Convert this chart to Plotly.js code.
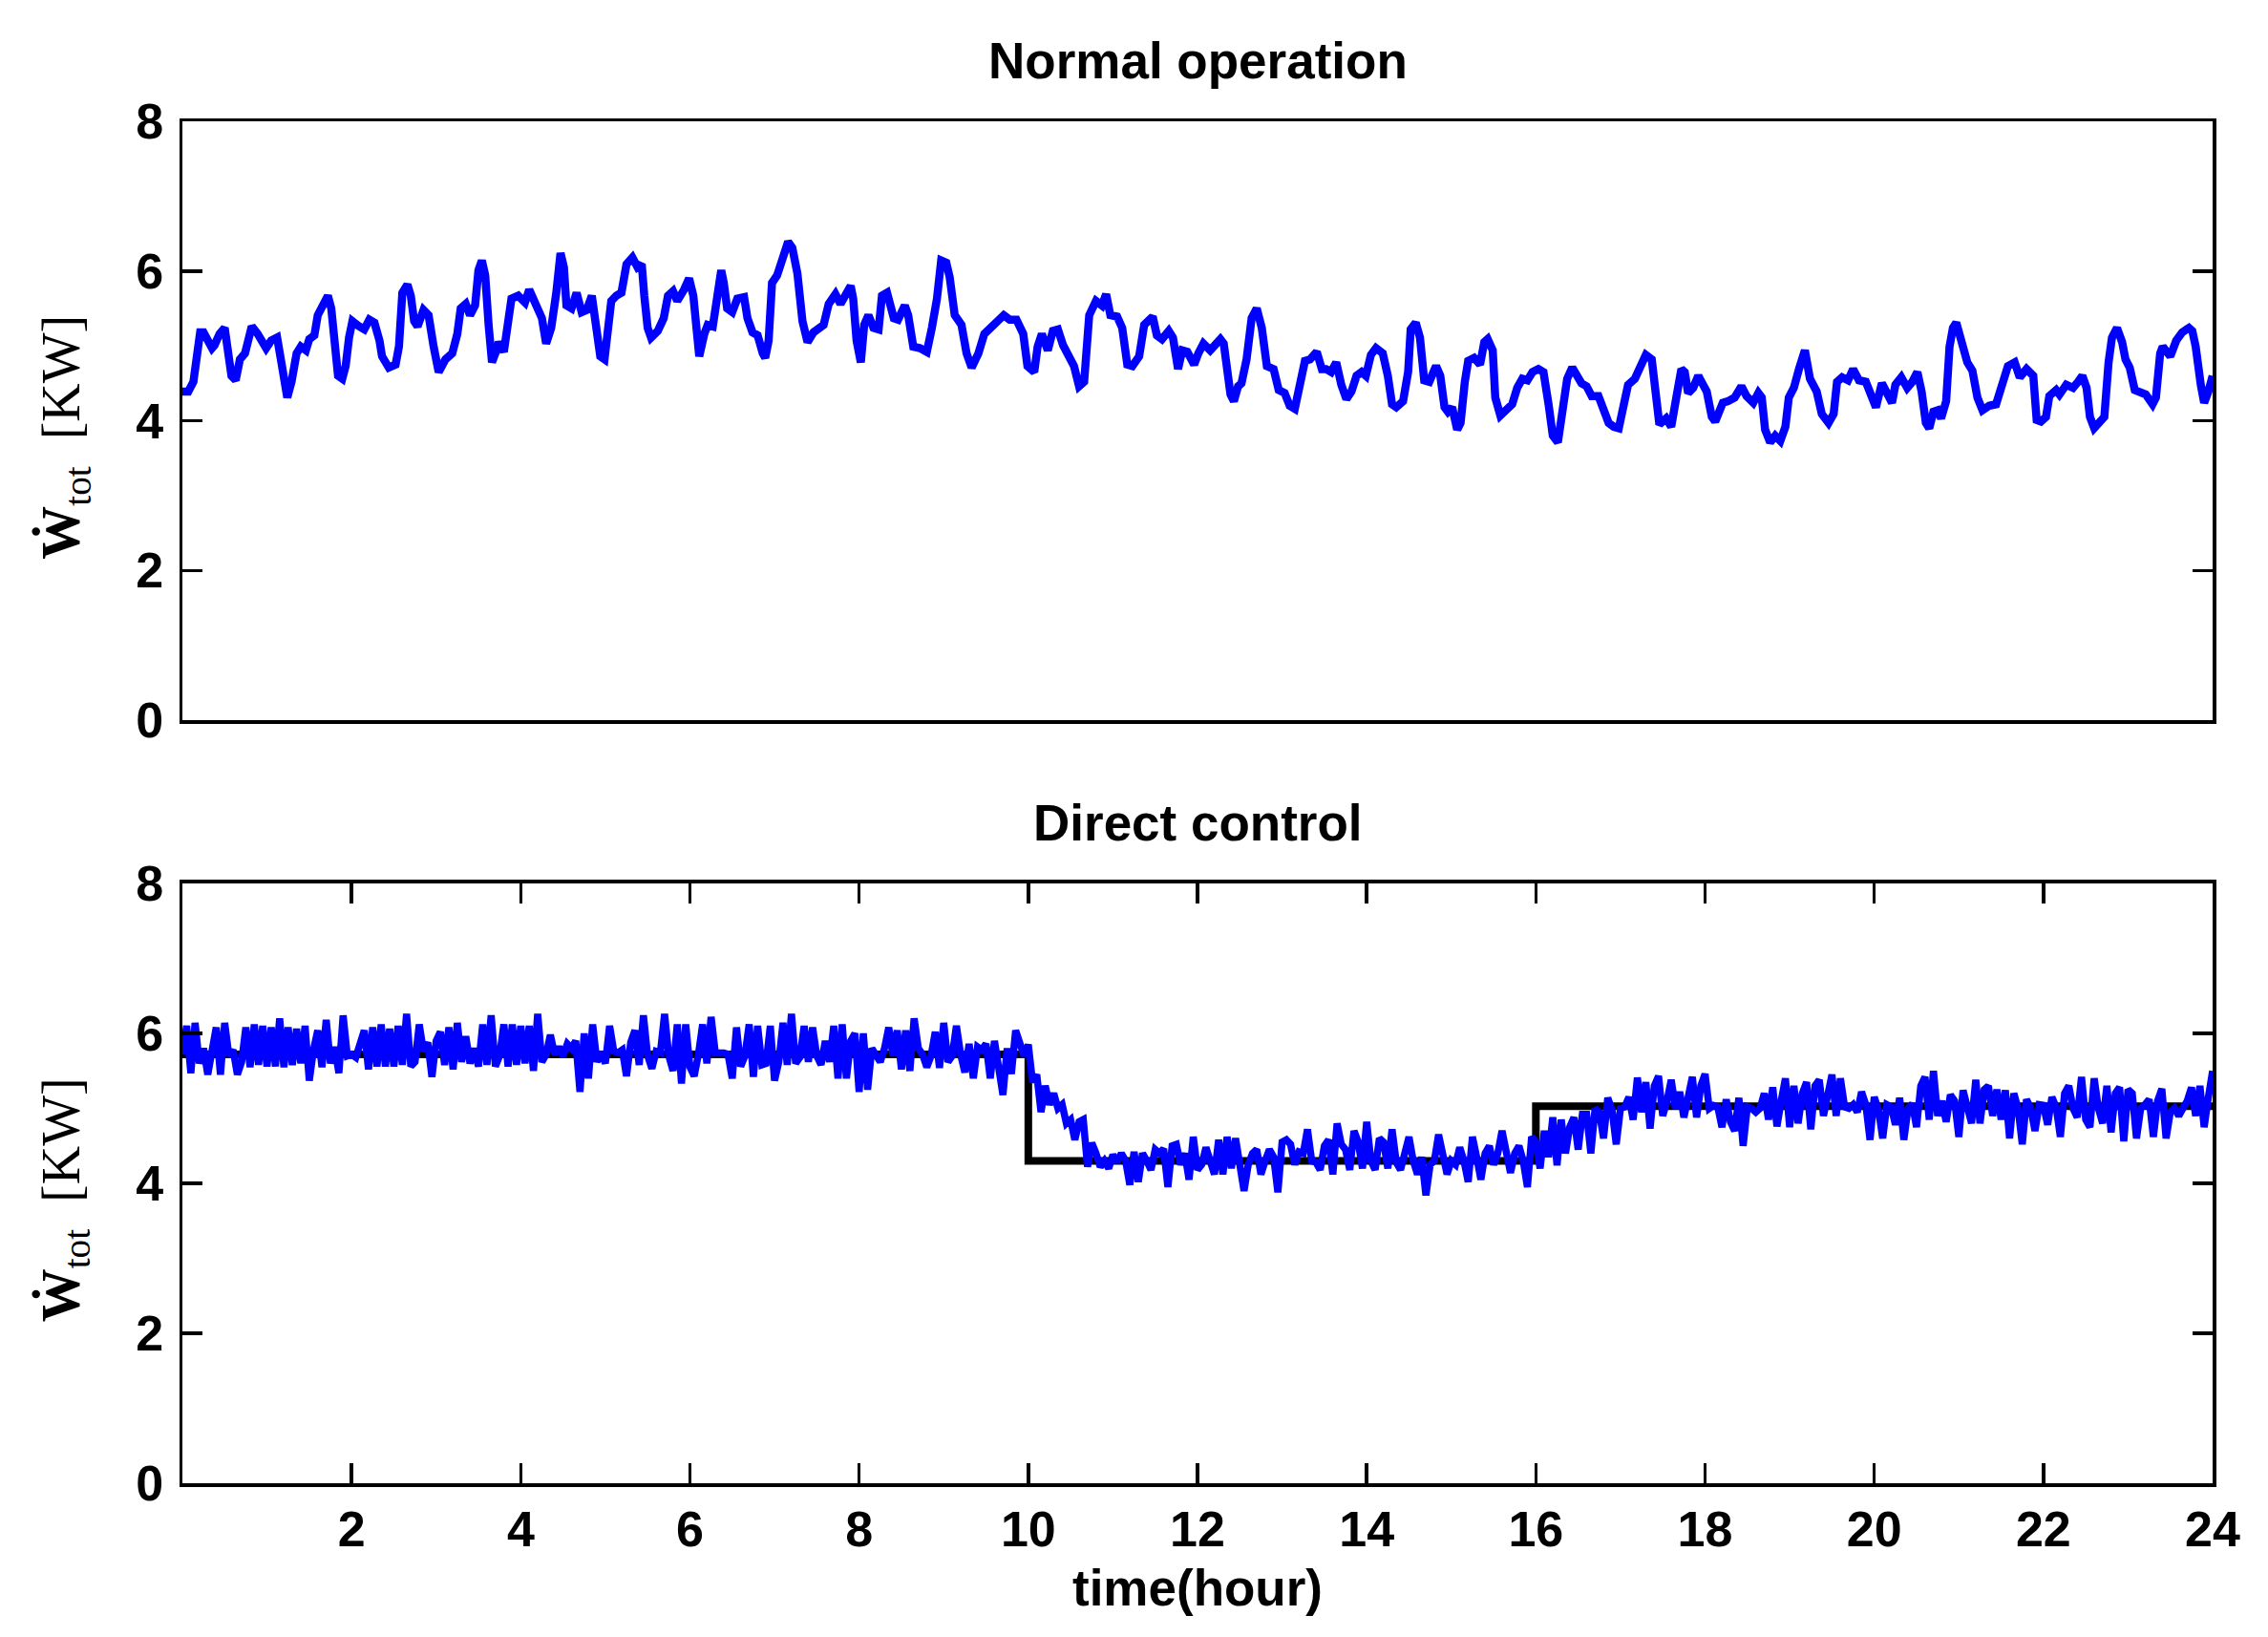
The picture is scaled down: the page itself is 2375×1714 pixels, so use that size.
<!DOCTYPE html>
<html>
<head>
<meta charset="utf-8">
<script src="https://cdn.plot.ly/plotly-3.0.1.min.js"></script>
<style>html,body{margin:0;padding:0;background:#fff;}</style>
</head>
<body>
<div id="chart" style="width:2375px;height:1714px;"></div>
<script>
// ---------- Top panel: Normal operation (time in hours, power in kW) ----------
const normalTime = [
0.00,0.07,0.13,0.17,0.21,0.25,0.29,0.35,0.38,0.44,0.50,0.54,0.58,0.63,0.68,0.74,0.78,0.82,0.89,0.99,
1.05,1.12,1.17,1.21,1.24,1.29,1.35,1.40,1.46,1.50,1.56,1.60,1.66,1.72,1.76,1.80,1.84,1.89,1.93,1.97,
2.01,2.09,2.15,2.21,2.27,2.33,2.36,2.44,2.52,2.56,2.60,2.66,2.70,2.74,2.78,2.85,2.91,2.97,3.03,3.11,
3.19,3.25,3.29,3.35,3.40,3.46,3.50,3.54,3.58,3.62,3.66,3.70,3.74,3.80,3.85,3.89,3.97,4.05,4.10,4.17,
4.25,4.30,4.36,4.42,4.47,4.51,4.54,4.60,4.66,4.72,4.78,4.84,4.89,4.94,4.99,5.03,5.07,5.13,5.19,5.25,
5.32,5.38,5.43,5.46,5.50,5.54,5.62,5.69,5.74,5.80,5.85,5.93,5.99,6.04,
6.11,6.17,6.21,6.27,6.31,6.37,6.40,6.44,6.50,6.56,6.64,6.68,6.74,6.80,6.86,6.89,6.93,6.97,7.03,7.09,
7.16,7.21,7.27,7.33,7.39,7.46,7.52,7.58,7.64,7.72,7.78,7.84,7.90,7.93,7.97,8.02,8.06,8.11,8.17,8.23,
8.27,8.33,8.37,8.41,8.46,8.54,8.58,8.64,8.72,8.80,8.86,8.92,8.97,9.03,9.07,9.13,9.21,9.27,9.33,9.41,
9.48,9.56,9.64,9.71,9.78,9.86,9.94,9.99,10.07,10.11,10.16,10.23,10.29,10.35,10.41,10.46,10.54,10.60,10.66,10.72,
10.80,10.87,10.92,10.97,11.05,11.11,11.17,11.23,11.31,11.37,11.47,11.52,11.58,11.66,11.71,11.77,11.82,11.88,
11.96,12.01,12.07,12.15,12.21,12.27,12.31,12.35,12.39,12.43,12.48,12.52,12.58,12.64,12.70,12.76,12.82,12.90,12.96,13.03,
13.09,13.15,13.21,13.27,13.33,13.41,13.47,13.52,13.58,13.64,13.70,13.76,13.82,13.88,13.94,13.99,14.05,14.11,14.19,14.25,
14.30,14.35,14.43,14.49,14.52,14.58,14.63,14.68,14.74,14.82,14.87,14.92,14.96,15.01,15.07,15.11,15.16,15.20,15.27,15.34,
15.39,15.43,15.49,15.52,15.58,15.66,15.72,15.78,15.84,15.90,15.96,16.03,16.09,16.15,16.20,16.26,16.31,16.37,16.43,16.49,
16.54,16.60,16.66,16.74,16.80,16.86,16.92,16.98,17.04,17.09,17.17,17.23,17.30,17.37,17.41,17.46,17.54,17.60,17.66,17.72,
17.76,17.80,17.86,17.92,
18.02,18.08,18.12,18.16,18.21,18.27,18.35,18.43,18.49,18.57,18.63,18.67,18.71,18.77,18.83,18.89,18.95,18.99,19.05,19.11,
19.18,19.24,19.32,19.38,19.46,19.52,19.56,19.62,19.69,19.75,19.82,19.90,19.96,20.02,20.09,20.15,20.21,20.25,20.32,20.39,
20.45,20.51,20.56,20.61,20.65,20.70,20.75,20.79,20.85,20.89,20.93,20.97,21.02,21.10,21.16,21.22,21.28,21.36,21.44,21.50,
21.58,21.66,21.72,21.80,21.88,21.92,21.97,22.03,22.07,22.15,22.19,22.27,22.35,22.41,22.46,22.51,22.55,22.60,22.67,22.72,
22.77,22.81,22.87,22.93,22.97,23.02,23.08,23.14,23.21,23.29,23.33,23.38,23.41,23.50,23.57,23.64,23.72,23.76,23.80,23.86,
23.90,23.95,24.00
];
const normalPower = [
4.39,4.39,4.52,4.90,5.18,5.18,5.11,4.97,5.01,5.16,5.24,4.90,4.60,4.54,4.82,4.90,5.11,5.26,5.16,4.97,
5.07,5.11,4.78,4.44,4.31,4.52,4.90,4.99,4.94,5.09,5.14,5.41,5.52,5.67,5.50,4.90,4.60,4.56,4.73,5.11,
5.33,5.26,5.22,5.35,5.31,5.07,4.86,4.71,4.75,4.99,5.71,5.82,5.67,5.33,5.26,5.48,5.41,4.99,4.65,4.82,
4.90,5.16,5.50,5.56,5.41,5.54,6.01,6.14,5.94,5.28,4.78,4.90,5.05,4.92,5.24,5.63,5.67,5.58,5.75,5.56,
5.37,5.03,5.24,5.71,6.24,6.05,5.54,5.50,5.71,5.45,5.48,5.67,5.20,4.86,4.82,5.16,5.60,5.67,5.71,6.09,
6.18,6.05,6.09,5.67,5.24,5.11,5.20,5.37,5.67,5.73,5.60,5.75,5.90,5.67,
4.86,5.16,5.28,5.26,5.58,6.01,5.84,5.50,5.45,5.63,5.65,5.37,5.18,5.14,4.90,4.84,5.07,5.84,5.94,6.14,
6.39,6.31,5.97,5.33,5.05,5.18,5.24,5.28,5.56,5.69,5.56,5.67,5.80,5.63,5.07,4.78,5.28,5.41,5.24,5.22,
5.67,5.71,5.58,5.37,5.35,5.54,5.41,4.99,4.97,4.92,5.24,5.63,6.14,6.11,5.92,5.41,5.28,4.90,4.71,4.90,
5.16,5.24,5.33,5.41,5.35,5.35,5.16,4.73,4.65,4.99,5.16,4.94,5.20,5.22,5.01,4.90,4.73,4.46,4.52,5.41,
5.60,5.54,5.69,5.41,5.39,5.24,4.75,4.73,4.86,5.28,5.39,5.14,5.09,5.20,5.11,4.69,4.94,4.92,
4.75,4.90,5.03,4.94,5.01,5.09,5.03,4.69,4.35,4.26,4.46,4.50,4.82,5.37,5.50,5.24,4.73,4.69,4.41,4.37,
4.20,4.16,4.44,4.80,4.82,4.92,4.69,4.69,4.65,4.78,4.48,4.29,4.39,4.60,4.65,4.60,4.88,4.97,4.90,4.60,
4.22,4.18,4.26,4.65,5.22,5.31,5.11,4.54,4.52,4.73,4.60,4.18,4.12,4.18,3.88,3.97,4.52,4.80,4.84,4.75,
5.05,5.09,4.94,4.31,4.07,4.14,4.22,4.44,4.56,4.54,4.65,4.69,4.65,4.22,3.80,3.71,4.05,4.56,4.71,4.56,
4.50,4.46,4.33,4.33,4.18,3.97,3.92,3.90,4.22,4.48,4.56,4.73,4.88,4.82,4.39,3.95,4.03,3.92,4.31,4.69,
4.65,4.37,4.44,4.60,
4.39,4.05,3.99,4.14,4.24,4.26,4.31,4.46,4.33,4.24,4.37,4.31,3.88,3.71,3.80,3.73,3.92,4.31,4.44,4.69,
4.94,4.56,4.39,4.09,3.97,4.09,4.52,4.58,4.54,4.69,4.54,4.52,4.37,4.18,4.50,4.37,4.24,4.48,4.58,4.44,
4.52,4.65,4.39,3.97,3.90,4.12,4.14,4.03,4.26,4.99,5.24,5.31,5.07,4.78,4.67,4.31,4.14,4.20,4.22,4.48,
4.73,4.78,4.58,4.69,4.60,4.01,3.99,4.05,4.33,4.41,4.35,4.48,4.44,4.52,4.60,4.44,4.05,3.90,3.97,4.05,
4.78,5.11,5.24,5.05,4.82,4.71,4.41,4.39,4.35,4.22,4.31,4.90,4.99,4.86,5.07,5.18,5.24,5.20,4.99,4.48,
4.24,4.39,4.60
];

// ---------- Bottom panel: Direct control ----------
// measured power sampled every 0.05 hour from 0 to 24 h
const directStart = 0;
const directStep = 0.05;
const directPower = [
5.72,6.10,5.47,6.14,5.60,5.80,5.45,5.75,6.08,5.45,6.14,5.70,5.78,5.45,5.62,6.08,5.55,6.12,5.58,6.10,
5.56,6.08,5.56,6.20,5.55,6.08,5.58,6.06,5.60,6.10,5.37,5.78,6.04,5.55,6.18,5.60,5.82,5.47,6.24,5.70,
5.72,5.68,5.88,6.04,5.52,6.08,5.56,6.12,5.56,6.06,5.56,6.10,5.58,6.26,5.56,5.62,6.12,5.76,5.88,5.42,
5.90,6.02,5.58,6.08,5.52,6.14,5.62,5.96,5.60,5.80,5.56,6.12,5.58,6.24,5.56,5.70,6.12,5.56,6.12,5.58,
6.10,5.60,6.10,5.50,6.26,5.62,5.72,5.98,5.72,5.82,5.70,5.86,5.80,5.90,5.22,6.00,5.40,6.12,5.62,5.75,
5.60,6.10,5.76,5.74,5.78,5.43,5.88,6.04,5.58,6.24,5.70,5.53,5.76,5.74,6.26,5.70,5.50,6.12,5.33,6.12,
5.55,5.43,5.72,6.12,5.60,6.22,5.74,5.75,5.74,5.72,5.40,6.08,5.56,5.70,6.12,5.42,6.10,5.58,5.60,6.10,
5.37,5.62,6.14,5.58,6.26,5.60,5.68,6.10,5.62,6.08,5.70,5.58,5.90,5.62,6.10,5.40,6.12,5.40,5.90,6.00,
5.22,6.00,5.25,5.80,5.72,5.62,5.80,6.08,5.70,6.04,5.52,6.04,5.50,6.20,5.80,5.72,5.55,5.70,6.02,5.54,
6.14,5.62,5.70,6.10,5.72,5.48,5.86,5.40,5.82,5.78,5.86,5.40,5.90,5.60,5.18,5.80,5.46,6.04,5.90,5.70,
5.85,5.35,5.45,4.95,5.30,5.05,5.20,5.00,5.05,4.80,4.85,4.58,4.82,4.85,4.22,4.54,4.40,4.22,4.30,4.20,
4.38,4.28,4.40,4.30,3.98,4.42,4.02,4.40,4.30,4.18,4.45,4.40,4.46,3.95,4.50,4.52,4.25,4.40,4.05,4.62,
4.18,4.25,4.48,4.30,4.12,4.58,4.12,4.62,4.20,4.60,4.30,3.90,4.25,4.40,4.45,4.12,4.30,4.45,4.35,3.88,
4.55,4.58,4.52,4.25,4.42,4.40,4.72,4.30,4.28,4.18,4.50,4.58,4.12,4.80,4.52,4.45,4.18,4.70,4.55,4.20,
4.82,4.30,4.18,4.60,4.55,4.20,4.72,4.28,4.18,4.40,4.62,4.30,4.12,4.35,3.84,4.25,4.30,4.65,4.35,4.12,
4.30,4.25,4.48,4.30,4.02,4.62,4.35,4.05,4.40,4.50,4.25,4.40,4.70,4.35,4.14,4.40,4.50,4.30,3.95,4.62,
4.55,4.20,4.70,4.35,4.88,4.24,4.85,4.40,4.75,4.88,4.45,4.92,4.92,4.40,5.00,4.95,4.60,5.14,4.98,4.52,
5.00,5.02,5.15,4.85,5.41,4.95,5.35,4.73,5.30,5.43,4.90,5.10,5.38,5.00,5.22,4.88,5.20,5.42,4.88,5.30,
5.46,5.00,5.04,5.02,4.75,5.12,4.82,4.70,5.14,4.50,5.02,5.00,4.95,5.00,5.20,4.85,5.28,4.76,5.10,5.40,
4.75,5.30,4.80,5.20,5.35,4.72,5.30,5.38,4.90,5.20,5.45,4.90,5.40,5.02,5.00,5.05,4.95,5.22,5.05,4.58,
5.15,4.98,4.60,5.05,5.02,4.78,5.14,4.58,5.00,5.06,4.75,5.30,5.42,4.85,5.50,4.90,5.10,4.82,5.18,5.10,
4.62,5.24,5.00,4.80,5.38,4.80,5.25,5.30,4.90,5.25,4.85,5.24,4.60,5.20,5.00,4.52,5.12,5.00,4.70,5.05,
5.04,4.78,5.15,5.02,4.62,5.20,5.30,5.00,4.88,5.42,4.85,4.75,5.40,5.00,4.80,5.30,4.68,5.20,5.28,4.56,
5.25,5.20,4.60,5.00,5.05,5.12,4.62,5.10,5.26,4.60,4.95,5.00,4.90,5.00,5.10,5.28,4.90,5.30,4.75,5.15,
5.50
];
// reference (target) step profile
const refTime = [0, 10, 10, 16, 16, 24];
const refPower = [5.72, 5.72, 4.30, 4.30, 5.03, 5.03];

// axis ticks / labels
const yTicks = [0, 2, 4, 6, 8];
const xTicks = [2, 4, 6, 8, 10, 12, 14, 16, 18, 20, 22, 24];
const topTitle = 'Normal operation';
const bottomTitle = 'Direct control';
const xLabel = 'time(hour)';
const yLabel = '<b>Ẇ</b><sub>tot</sub>\u2002[KW]';

const BLUE = '#0000FF';
const tickFont = {family: 'Liberation Sans, Arial, sans-serif', size: 52, color: '#000', weight: 'bold'};

const traces = [
  {x: normalTime, y: normalPower, xaxis: 'x', yaxis: 'y', type: 'scatter', mode: 'lines',
   line: {color: BLUE, width: 8.5}, hoverinfo: 'skip'},
  {x: refTime, y: refPower, xaxis: 'x2', yaxis: 'y2', type: 'scatter', mode: 'lines',
   line: {color: '#000', width: 8}, hoverinfo: 'skip'},
  {x0: directStart, dx: directStep, y: directPower, xaxis: 'x2', yaxis: 'y2', type: 'scatter', mode: 'lines',
   line: {color: BLUE, width: 7.5}, hoverinfo: 'skip'}
];

const axisBase = {
  showgrid: false, zeroline: false, showline: true, linecolor: '#000', linewidth: 3.5,
  tickcolor: '#000', tickwidth: 3.5, ticklen: 21, ticks: 'inside', mirror: 'ticks',
  tickfont: tickFont, fixedrange: true
};

const layout = {
  width: 2375, height: 1714,
  paper_bgcolor: '#fff', plot_bgcolor: '#fff',
  margin: {l: 191, r: 58, t: 127, b: 161},
  showlegend: false,
  xaxis: Object.assign({}, axisBase, {domain: [0, 1], range: [0, 24], anchor: 'y',
    ticks: '', showticklabels: false, mirror: true}),
  yaxis: Object.assign({}, axisBase, {domain: [0.5603, 1], range: [0, 8], anchor: 'x',
    tickvals: yTicks, ticktext: yTicks.map(String), ticklabelstandoff: 6}),
  xaxis2: Object.assign({}, axisBase, {domain: [0, 1], range: [0, 24], anchor: 'y2',
    tickvals: xTicks, ticktext: xTicks.map(String), ticklabelstandoff: 0}),
  yaxis2: Object.assign({}, axisBase, {domain: [0, 0.4404], range: [0, 8], anchor: 'x2',
    tickvals: yTicks, ticktext: yTicks.map(String), ticklabelstandoff: 6}),
  annotations: [
    {text: '<b>' + topTitle + '</b>', xref: 'paper', yref: 'paper', x: 0.5, y: 1.0442,
     xanchor: 'center', yanchor: 'middle', showarrow: false,
     font: {family: 'Liberation Sans, Arial, sans-serif', size: 53, color: '#000'}},
    {text: '<b>' + bottomTitle + '</b>', xref: 'paper', yref: 'paper', x: 0.5, y: 0.4846,
     xanchor: 'center', yanchor: 'middle', showarrow: false,
     font: {family: 'Liberation Sans, Arial, sans-serif', size: 53, color: '#000'}},
    {text: '<b>' + xLabel + '</b>', xref: 'paper', yref: 'paper', x: 0.5, y: -0.0771,
     xanchor: 'center', yanchor: 'middle', showarrow: false,
     font: {family: 'Liberation Sans, Arial, sans-serif', size: 53, color: '#000'}},
    {text: yLabel, xref: 'paper', yref: 'paper', x: -0.0579, y: 0.768, textangle: -90,
     xanchor: 'center', yanchor: 'middle', showarrow: false,
     font: {family: 'Liberation Serif, DejaVu Serif, serif', size: 56, color: '#000'}},
    {text: yLabel, xref: 'paper', yref: 'paper', x: -0.0579, y: 0.208, textangle: -90,
     xanchor: 'center', yanchor: 'middle', showarrow: false,
     font: {family: 'Liberation Serif, DejaVu Serif, serif', size: 56, color: '#000'}}
  ]
};

Plotly.newPlot('chart', traces, layout, {staticPlot: true, displayModeBar: false});
</script>
</body>
</html>
